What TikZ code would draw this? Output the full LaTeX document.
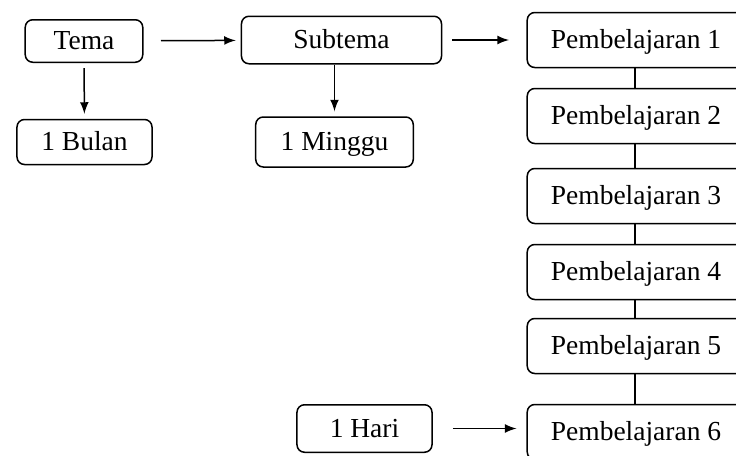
\documentclass[tikz,border=0pt]{standalone}
\usepackage{fontspec}
\setmainfont{Liberation Serif}
\usepackage{tikz}

\begin{document}
\begin{tikzpicture}[>=latex, x=0.4pt, y=-0.4pt,
  kotak/.style={draw, semithick, rounded corners=3pt, align=center, inner sep=0pt,
    text height=1.8ex, text depth=0.3ex, font=\fontsize{11}{13}\selectfont},
  pemb/.style={kotak, minimum width=87pt, minimum height=22pt},
  panah/.style={->, semithick}]
% ===== batas gambar =====
\useasboundingbox (0,0) rectangle (736,455);

% ===== kolom kiri =====
\node[kotak, minimum width=47pt, minimum height=17pt] (tema) at (84,41) {Tema};
\node[kotak, minimum width=54pt, minimum height=18pt] (bulan) at (84.5,142) {1 Bulan};

% ===== kolom tengah =====
\node[kotak, minimum width=80pt, minimum height=19pt] (subtema) at (341.5,40) {Subtema};
\node[kotak, minimum width=63pt, minimum height=20pt] (minggu) at (334.5,142) {1 Minggu};
\node[kotak, minimum width=54pt, minimum height=19pt] (hari) at (364.5,428.5) {1 Hari};

% ===== kolom kanan =====
\node[pemb] (p1) at (636,40)  {Pembelajaran 1};
\node[pemb] (p2) at (636,116) {Pembelajaran 2};
\node[pemb] (p3) at (636,196) {Pembelajaran 3};
\node[pemb] (p4) at (636,272) {Pembelajaran 4};
\node[pemb] (p5) at (636,346) {Pembelajaran 5};
\node[pemb] (p6) at (636,432) {Pembelajaran 6};

% ===== panah =====
\draw[panah, shorten >=2pt, shorten <=7pt] (tema) -- (subtema);
\draw[panah, shorten >=2pt, shorten <=2pt] (tema) -- (bulan);
\draw[panah, shorten >=2pt] (subtema.south -| minggu.north) -- (minggu.north);
\draw[panah, shorten >=7pt, shorten <=4pt] (subtema) -- (p1);
\draw[panah, shorten >=4pt, shorten <=8pt] (hari.east) -- (p6.west |- hari.east);

% ===== garis penghubung =====
\foreach \a/\b in {p1/p2, p2/p3, p3/p4, p4/p5, p5/p6}
  \draw[semithick] ([xshift=-0.4pt]\a.south) -- ([xshift=-0.4pt]\b.north);
\end{tikzpicture}
\end{document}
